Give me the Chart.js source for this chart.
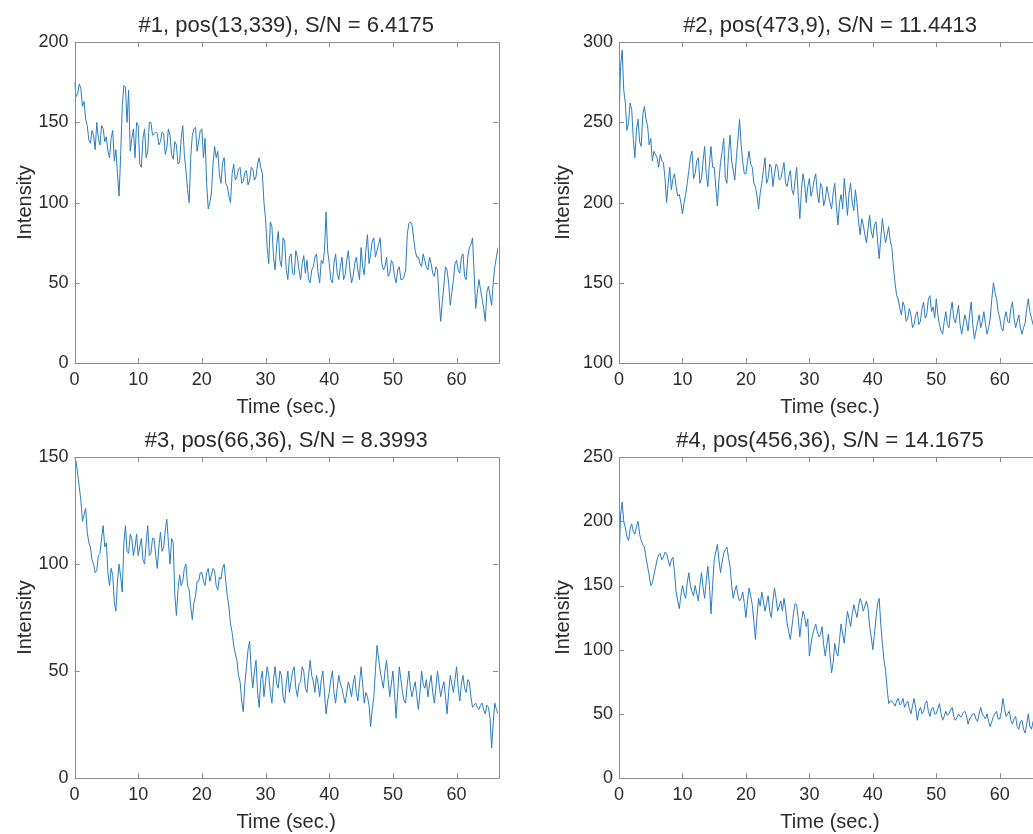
<!DOCTYPE html>
<html>
<head>
<meta charset="utf-8">
<title>Intensity traces</title>
<script src="https://cdn.jsdelivr.net/npm/chart.js@4.4.1/dist/chart.umd.min.js"></script>
<style>
  html, body { margin: 0; padding: 0; background: #fff; overflow: hidden; }
  #figure { position: relative; width: 1033px; height: 834px; overflow: hidden; }
  #figure canvas { position: absolute; }
</style>
</head>
<body>
<div id="figure">
  <canvas id="trace1" width="520" height="419" style="left:0;top:0"></canvas>
  <canvas id="trace2" width="527" height="419" style="left:520px;top:0"></canvas>
  <canvas id="trace3" width="520" height="419" style="left:0;top:415px"></canvas>
  <canvas id="trace4" width="527" height="419" style="left:520px;top:415px"></canvas>
</div>
<script>
// sampling interval of the traces (sec.)
const sampleStep = 0.25;
const timeMax = 66.5;

const titles = [
  "#1, pos(13,339), S/N = 6.4175",
  "#2, pos(473,9), S/N = 11.4413",
  "#3, pos(66,36), S/N = 8.3993",
  "#4, pos(456,36), S/N = 14.1675"
];

// one row = 5 seconds
const trace1 = [
  175,166,168,174,171,160,163,152,148,139,137,145,142,133,150,140,136,148,146,138,
  141,132,128,140,145,126,133,118,104,130,160,173,172,150,170,132,140,146,128,150,
  148,124,122,140,146,128,132,150,150,142,143,144,143,136,138,144,143,130,134,146,
  142,130,127,138,136,124,125,140,148,130,120,108,100,128,142,146,147,132,138,145,
  146,128,140,112,96,100,106,124,135,128,132,118,112,125,128,112,110,104,100,118,
  124,114,116,121,122,112,113,119,120,111,114,122,121,114,116,124,128,122,118,100,
  90,72,62,88,85,66,58,74,82,64,60,78,76,58,52,66,68,56,55,70,
  66,58,52,62,67,56,64,52,50,58,60,66,68,56,50,64,62,70,94,70,
  62,52,50,62,68,56,52,60,66,52,55,64,70,58,50,54,62,66,58,52,
  72,60,55,70,80,62,68,76,78,66,70,74,78,62,58,60,66,54,56,64,
  62,54,50,58,60,52,52,54,58,80,87,88,86,78,70,66,66,62,60,68,
  64,60,58,66,62,56,54,60,58,40,26,38,48,60,58,50,36,44,52,62,
  64,58,56,66,68,54,52,66,72,74,78,56,34,44,52,46,40,34,26,44,
  48,42,36,50,60,66,72
];

const trace2 = [
  250,285,295,270,262,245,250,262,258,240,228,245,252,238,235,255,260,252,248,236,
  240,226,232,230,228,222,230,226,225,215,200,212,222,208,215,218,210,204,205,200,
  193,200,205,212,220,228,232,215,218,226,228,212,215,226,235,218,210,224,235,222,
  222,210,198,214,225,232,240,215,212,230,242,226,220,214,228,240,252,236,225,218,
  218,226,232,224,222,212,210,204,196,206,212,220,228,212,215,224,222,210,218,224,
  222,214,215,220,225,212,210,216,220,208,205,214,222,204,190,208,218,212,200,210,
  215,204,208,214,218,206,200,212,210,198,202,210,205,200,196,206,212,198,186,200,
  205,196,215,204,192,206,212,200,195,208,200,188,180,190,186,180,175,184,192,182,
  178,186,188,176,165,178,190,182,175,180,185,176,172,160,150,142,140,134,130,138,
  135,126,128,134,130,122,124,130,132,124,126,134,138,128,130,140,142,132,135,128,
  140,130,124,120,118,126,132,124,122,132,138,128,125,130,136,124,118,124,130,126,
  120,130,138,124,115,120,125,130,122,126,132,124,118,122,128,140,150,144,140,132,
  128,122,120,128,132,126,125,134,138,128,122,126,130,122,118,122,125,134,140,132,
  128,124,122,128,130,124,126
];

const trace3 = [
  150,148,142,136,130,120,123,126,115,110,108,102,100,96,97,104,105,112,118,108,
  110,96,90,98,95,82,78,92,100,94,87,110,118,106,105,114,112,104,108,114,
  104,108,112,102,100,110,118,104,105,112,112,104,98,108,115,106,108,116,121,110,
  100,112,110,86,76,88,95,90,92,98,100,90,88,80,74,82,85,92,92,96,
  96,92,90,96,98,92,95,98,97,90,88,94,93,98,100,92,85,80,72,68,
  62,58,55,48,45,36,31,44,52,60,64,50,42,50,55,40,33,46,50,38,
  45,52,48,40,35,46,52,44,42,50,48,38,35,44,50,40,45,50,52,42,
  38,44,45,52,50,42,40,48,55,48,45,40,48,44,38,46,50,40,30,36,
  40,46,50,40,35,42,48,44,42,38,35,40,45,42,38,44,48,40,36,44,
  52,44,35,40,38,34,24,32,38,50,62,56,50,46,42,50,55,46,38,44,
  50,40,28,40,52,46,40,36,35,44,50,42,38,42,45,38,32,40,50,44,
  42,46,38,44,48,40,35,42,50,44,38,42,45,38,30,40,48,44,40,46,
  52,42,36,44,48,42,40,46,45,38,33,34,35,33,32,34,35,32,30,34,
  33,28,14,26,35,32,30
];

const trace4 = [
  168,205,215,200,195,188,185,194,198,192,190,196,200,190,185,182,180,172,165,158,
  150,152,158,164,170,174,175,170,172,176,175,170,165,170,172,160,145,138,132,142,
  150,144,140,152,160,150,145,142,150,144,138,150,160,148,140,154,165,150,128,150,
  170,176,182,170,160,168,175,178,180,172,165,150,140,146,150,142,138,140,145,136,
  125,138,148,142,135,122,108,126,140,134,145,138,130,136,142,130,125,138,148,140,
  130,134,138,130,140,132,120,114,108,118,128,136,135,124,110,122,130,126,118,124,
  95,104,112,116,120,114,110,112,118,104,95,104,112,96,82,90,105,98,95,108,
  120,112,105,118,130,124,118,128,135,130,125,134,140,136,130,134,138,132,118,110,
  100,112,125,136,140,120,105,92,84,70,58,60,60,58,56,60,62,57,58,62,
  55,58,60,54,50,56,62,55,45,52,55,50,52,58,60,52,48,54,55,50,
  50,54,58,50,45,48,52,49,50,53,55,48,45,47,50,48,48,51,52,49,
  42,46,48,50,50,46,44,50,55,50,48,46,50,44,40,44,48,50,52,46,
  46,52,62,54,48,50,52,45,42,46,48,40,38,44,45,38,35,42,50,40,
  38,44,46,40,36,42,44
];

const yRanges = [[0, 200], [100, 300], [0, 150], [0, 250]];
const xTickStep = 10;
const yTickStep = 50;

const fontFamily = "'Liberation Sans', Arial, Helvetica, sans-serif";
const lineColor = "#2a7cc4";
const axisColor = "#8c8c8c";
const textColor = "#2b2b2b";

// box round the plot area with inward ticks on all four sides
const axesBox = {
  id: "axesBox",
  afterDatasetsDraw(chart) {
    const { ctx, chartArea: a, scales: { x, y } } = chart;
    const len = 5;
    ctx.save();
    ctx.strokeStyle = axisColor;
    ctx.lineWidth = 1;
    ctx.beginPath();
    ctx.rect(Math.round(a.left) + 0.5, Math.round(a.top) + 0.5,
             Math.round(a.right - a.left), Math.round(a.bottom - a.top));
    x.ticks.forEach(t => {
      const px = Math.round(x.getPixelForValue(t.value)) + 0.5;
      ctx.moveTo(px, a.bottom); ctx.lineTo(px, a.bottom - len);
      ctx.moveTo(px, a.top); ctx.lineTo(px, a.top + len);
    });
    y.ticks.forEach(t => {
      const py = Math.round(y.getPixelForValue(t.value)) + 0.5;
      ctx.moveTo(a.left, py); ctx.lineTo(a.left + len, py);
      ctx.moveTo(a.right, py); ctx.lineTo(a.right - len, py);
    });
    ctx.stroke();
    ctx.restore();
  }
};

function makeTrace(id, title, values, range, yAxisWidth, yTitleOffset, rightPad) {
  const points = values.map((v, i) => ({ x: i * sampleStep, y: v }));
  return new Chart(document.getElementById(id), {
    type: "line",
    data: {
      datasets: [{
        data: points,
        borderColor: lineColor,
        borderWidth: 1,
        pointRadius: 0,
        tension: 0,
        fill: false
      }]
    },
    options: {
      responsive: false,
      animation: false,
      events: [],
      layout: { padding: { left: 0, right: rightPad, top: 0, bottom: 0 } },
      plugins: {
        legend: { display: false },
        tooltip: { enabled: false },
        title: {
          display: true,
          text: title,
          fullSize: false,
          color: textColor,
          font: { family: fontFamily, size: 22, weight: "normal" },
          padding: { top: 12.5, bottom: 3.3 }
        }
      },
      scales: {
        x: {
          type: "linear",
          min: 0,
          max: timeMax,
          grid: { display: false, drawTicks: false },
          border: { display: false },
          ticks: {
            stepSize: xTickStep,
            includeBounds: false,
            padding: 6,
            color: textColor,
            font: { family: fontFamily, size: 18 }
          },
          title: {
            display: true,
            text: "Time (sec.)",
            color: textColor,
            font: { family: fontFamily, size: 20 },
            padding: { top: 0, bottom: 0 }
          },
          afterFit(scale) { scale.height = 56; }
        },
        y: {
          type: "linear",
          min: range[0],
          max: range[1],
          grid: { display: false, drawTicks: false },
          border: { display: false },
          ticks: {
            stepSize: yTickStep,
            padding: 6,
            color: textColor,
            font: { family: fontFamily, size: 18 }
          },
          title: {
            display: true,
            text: "Intensity",
            color: textColor,
            font: { family: fontFamily, size: 20 },
            padding: { top: yTitleOffset, bottom: 0 }
          },
          afterFit(scale) { scale.width = yAxisWidth; }
        }
      }
    },
    plugins: [axesBox]
  });
}

makeTrace("trace1", titles[0], trace1, yRanges[0], 74.5, 13, 22);
makeTrace("trace2", titles[1], trace2, yRanges[1], 99, 31, 6);
makeTrace("trace3", titles[2], trace3, yRanges[2], 74.5, 13, 22);
makeTrace("trace4", titles[3], trace4, yRanges[3], 99, 31, 6);
</script>
</body>
</html>
